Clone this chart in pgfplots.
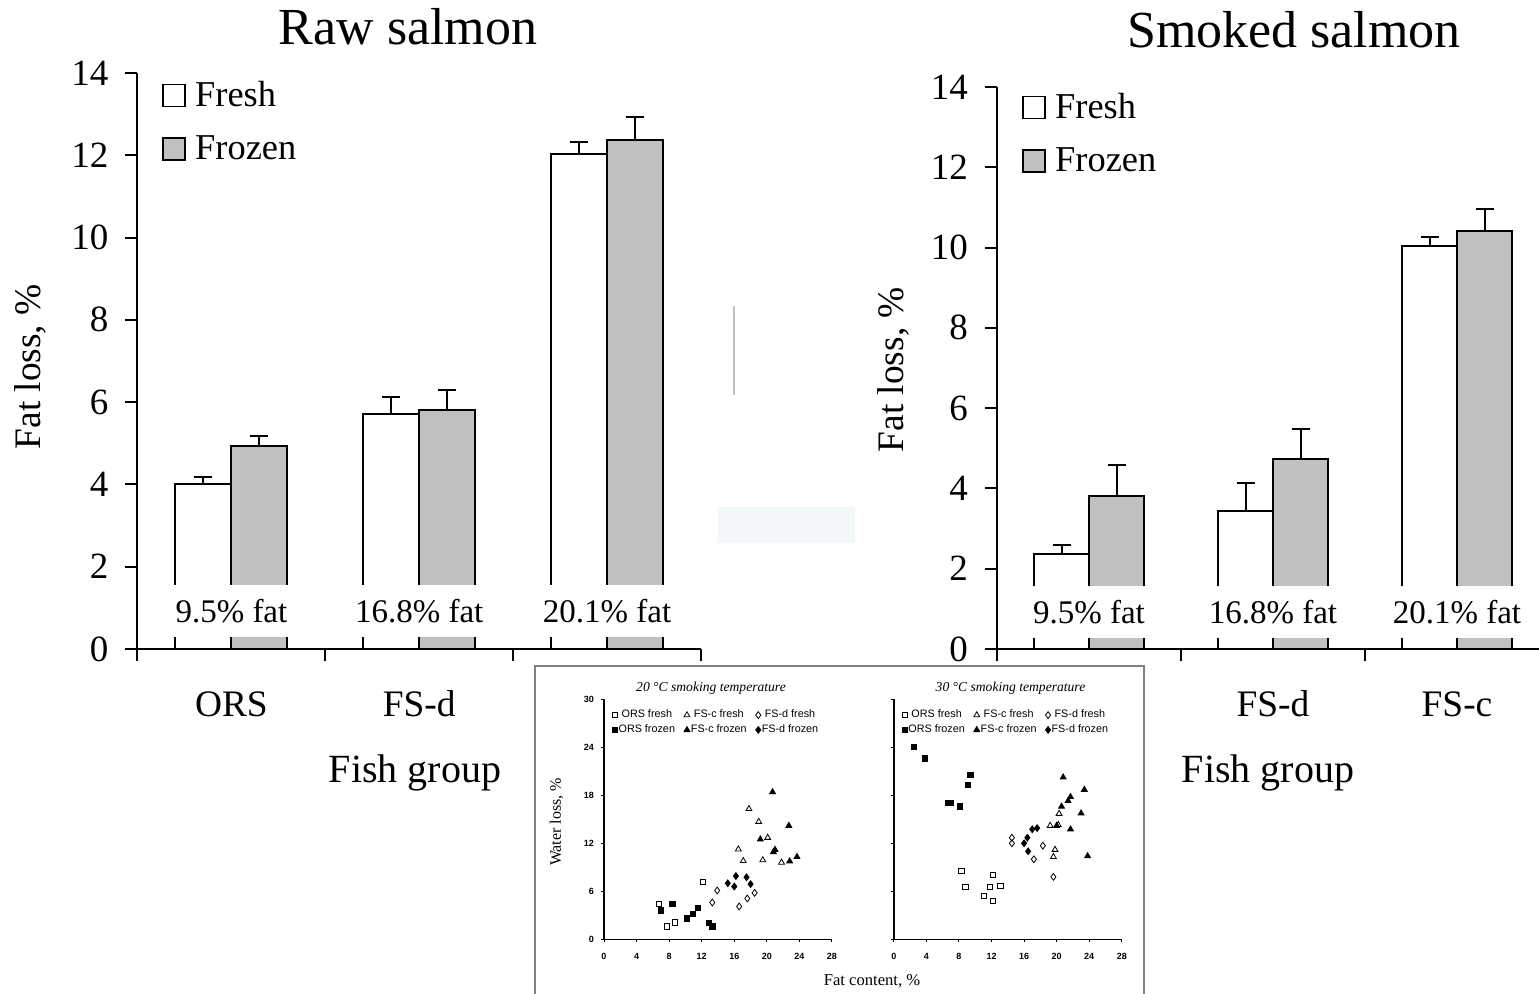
\documentclass[border=0pt]{standalone}
\usepackage{fontspec}
\setmainfont{Liberation Serif}
\setsansfont{Liberation Sans}
\usepackage{pgfplots}
\pgfplotsset{compat=1.18}
\definecolor{bargray}{HTML}{C0C0C0}
\definecolor{artgray}{HTML}{C0C0C0}
\definecolor{artblue}{HTML}{F2F7FA}
\newcommand\fs[1]{\fontsize{#1}{#1}\selectfont}
\tikzset{fatlab/.style={fill=white, inner sep=0pt, font=\fs{16.5}, minimum height=26pt}}
\pgfplotsset{
  mainbar/.style={
    scale only axis, axis lines*=left, clip=false,
    ymin=0, ymax=14, ytick={0,2,...,14},
    xmin=-0.5, xmax=2.5, xtick={-0.5,0.5,1.5,2.5}, xticklabels={},
    extra x ticks={0,1,2},
    extra x tick style={major tick length=0pt, xticklabel style={anchor=base, yshift=-34pt, font=\fs{18.7}}},
    tick align=outside, major tick length=6pt,
    every tick/.style={black, line width=1pt},
    axis line style={line width=1pt},
    /pgf/number format/assume math mode=true,
    yticklabel style={font=\fs{18.5}, xshift=-5pt},
    ylabel={Fat loss, \%},
    xlabel={Fish group},
    ybar=0pt,
    legend cell align=left,
    legend style={draw=none, fill=none, at={(0,1)}, anchor=north west, font=\fs{18.2}, row sep=9pt, inner sep=0pt},
  },
  sqlegend/.style={legend image code/.code={\draw[##1, line width=0.8pt] (0pt,-5.5pt) rectangle (11pt,5.5pt); \path (13.5pt,0pt);}},
  barfresh/.style={fill=white, draw=black, line width=1pt, sqlegend,
    error bars/.cd, y dir=plus, y explicit, error bar style={line width=1pt, black},
    error mark options={rotate=90, mark size=4.5pt, line width=1pt, black}},
  barfrozen/.style={fill=bargray, draw=black, line width=1pt, sqlegend,
    error bars/.cd, y dir=plus, y explicit, error bar style={line width=1pt, black},
    error mark options={rotate=90, mark size=4.5pt, line width=1pt, black}},
  inset/.style={
    scale only axis, width=114pt, height=120pt, clip=false,
    xmin=0, xmax=28, ymin=0, ymax=30,
    xtick={0,4,...,28}, ytick={0,6,...,30},
    axis lines*=left, tick align=outside, major tick length=1.5pt,
    every tick/.style={black, line width=0.5pt},
    axis line style={line width=0.7pt},
    tick label style={font=\sffamily\bfseries\fs{4.5}},
    xticklabel style={yshift=-2pt},
    /pgf/number format/assume math mode=true,
    legend columns=3,
    legend style={draw=none, fill=none, at={(0,1)}, anchor=north west, xshift=4pt, yshift=-4.5pt,
      font=\sffamily\fs{5.4}, inner sep=0pt, nodes={inner sep=0.5pt}, row sep=1pt,
      /tikz/every odd column/.append style={column sep=0pt},
      /tikz/every even column/.append style={column sep=4pt}},
  },
  mk/.style={only marks, black, mark options={line width=0.4pt},
    legend image code/.code={\draw[##1] plot coordinates {(1.5pt,0pt)};}},
  s1/.style={mk, mark=square, mark size=1.3pt, mark options={fill=white}},
  s2/.style={mk, mark=triangle, mark size=1.7pt, mark options={fill=white}},
  s3/.style={mk, mark=diamond, mark size=1.7pt, mark options={fill=white}},
  s4/.style={mk, mark=square*, mark size=1.3pt},
  s5/.style={mk, mark=triangle*, mark size=1.7pt},
  s6/.style={mk, mark=diamond*, mark size=1.7pt},
}
\begin{document}
\begin{tikzpicture}
\path[use as bounding box] (0pt,0pt) rectangle (769.5pt,497pt);

% ---------------- Raw salmon ----------------
% (the FS-c label lies under the inset in the reference)
\begin{axis}[mainbar, at={(68.75pt,172.5pt)}, anchor=south west,
  width=281.75pt, height=288pt, bar width=28pt,
  extra x tick labels={ORS,FS-d,{}},
  ylabel style={at={(axis description cs:-0.1908,0.49)}, anchor=center, font=\fs{18.7}},
  xlabel style={at={(axis description cs:0.4925,-0.215)}, anchor=center, font=\fs{20}},
  legend style={xshift=12.25pt, yshift=-2pt}]
\addplot[barfresh] table[x=x, y=y, y error=e] {
x y e
0 4.00 0.19
1 5.70 0.42
2 12.03 0.30
};
\addlegendentry{Fresh}
\addplot[barfrozen] table[x=x, y=y, y error=e] {
x y e
0 4.94 0.23
1 5.80 0.50
2 12.37 0.56
};
\addlegendentry{Frozen}
\node[fatlab, minimum width=57pt] at (axis cs:0,0.92) {9.5\% fat};
\node[fatlab, minimum width=57pt] at (axis cs:1,0.92) {16.8\% fat};
\node[fatlab, minimum width=57pt] at (axis cs:2,0.92) {20.1\% fat};
\end{axis}

% ---------------- Smoked salmon ----------------
% (the ORS label lies under the inset in the reference)
\begin{axis}[mainbar, at={(498.5pt,172.5pt)}, anchor=south west,
  width=276pt, height=281pt, bar width=27.5pt,
  extra x tick labels={{},FS-d,FS-c},
  ylabel style={at={(axis description cs:-0.1884,0.497)}, anchor=center, font=\fs{18.7}},
  xlabel style={at={(axis description cs:0.491,-0.22)}, anchor=center, font=\fs{20}},
  legend style={xshift=12.5pt, yshift=-1pt}]
\addplot[barfresh] table[x=x, y=y, y error=e] {
x y e
0 2.36 0.22
1 3.44 0.70
2 10.03 0.24
};
\addlegendentry{Fresh}
\addplot[barfrozen] table[x=x, y=y, y error=e] {
x y e
0 3.80 0.78
1 4.74 0.74
2 10.41 0.56
};
\addlegendentry{Frozen}
\node[fatlab, minimum width=56pt] at (axis cs:0,0.92) {9.5\% fat};
\node[fatlab, minimum width=56pt] at (axis cs:1,0.92) {16.8\% fat};
\node[fatlab, minimum width=56pt] at (axis cs:2,0.92) {20.1\% fat};
\end{axis}

% titles
\node[anchor=base, font=\fs{26}] at (204pt,474.5pt) {Raw salmon};
\node[anchor=base, font=\fs{26}] at (647pt,473pt) {Smoked salmon};

% stray marks in the reference
\draw[artgray, line width=1pt] (366.85pt,344pt) -- (366.85pt,299.5pt);
\fill[artblue] (359pt,243.5pt) rectangle (427.5pt,225.5pt);

% ---------------- inset ----------------
\draw[fill=white, draw=gray, line width=0.6pt] (267.5pt,164pt) rectangle (572pt,-5pt);

\begin{axis}[inset, at={(302pt,27.35pt)}, anchor=south west]
\addplot[s1] coordinates {(6.7,4.4) (7.75,1.6) (8.7,2.1) (12.1,7.2)};
\addlegendentry{ORS fresh}
\addplot[s2] coordinates {(16.5,11.25) (17.1,9.8) (17.8,16.3) (19.0,14.7) (19.5,9.9) (20.1,12.7) (21.8,9.6)};
\addlegendentry{FS-c fresh}
\addplot[s3] coordinates {(13.3,4.6) (13.9,6.1) (16.6,4.1) (17.6,5.1) (18.5,5.8)};
\addlegendentry{FS-d fresh}
\addplot[s4] coordinates {(7.0,3.6) (8.4,4.4) (10.2,2.6) (10.9,3.2) (11.5,3.9) (12.9,2.0) (13.3,1.6)};
\addlegendentry{ORS frozen}
\addplot[s5] coordinates {(19.2,12.5) (20.7,18.4) (21.0,11.2) (20.8,10.9) (22.7,14.2) (22.8,9.75) (23.7,10.3)};
\addlegendentry{FS-c frozen}
\addplot[s6] coordinates {(15.2,7.0) (16.0,6.6) (16.2,7.9) (17.5,7.75) (18.0,6.9)};
\addlegendentry{FS-d frozen}
\end{axis}

\begin{axis}[inset, at={(446.9pt,27.35pt)}, anchor=south west, yticklabels={}]
\addplot[s1] coordinates {(8.3,8.5) (8.8,6.5) (11.1,5.4) (11.8,6.5) (12.15,8.0) (12.15,4.8) (13.1,6.7)};
\addlegendentry{ORS fresh}
\addplot[s2] coordinates {(19.6,10.3) (19.8,11.2) (19.2,14.2) (20.3,15.7) (20.2,14.3)};
\addlegendentry{FS-c fresh}
\addplot[s3] coordinates {(14.5,12.7) (14.5,12.0) (17.2,10.0) (18.3,11.7) (19.6,7.8)};
\addlegendentry{FS-d fresh}
\addplot[s4] coordinates {(2.5,24.0) (3.85,22.6) (6.6,17.0) (7.0,17.0) (8.1,16.6) (9.1,19.3) (9.4,20.5)};
\addlegendentry{ORS frozen}
\addplot[s5] coordinates {(20.0,14.2) (20.8,20.25) (20.6,16.6) (21.4,17.3) (21.7,17.8) (21.7,13.75) (23.0,15.75) (23.4,18.7) (23.8,10.4)};
\addlegendentry{FS-c frozen}
\addplot[s6] coordinates {(16.0,12.0) (16.4,12.7) (16.5,11.0) (17.0,13.75) (17.6,13.9)};
\addlegendentry{FS-d frozen}
\end{axis}

\node[font=\itshape\fs{6.8}] at (355.5pt,153pt) {20 °C smoking temperature};
\node[font=\itshape\fs{6.8}] at (505.25pt,153pt) {30 °C smoking temperature};
\node[rotate=90, font=\fs{8}] at (278.25pt,86pt) {Water loss, \%};
\node[font=\fs{8.3}] at (436pt,6.15pt) {Fat content, \%};
\end{tikzpicture}
\end{document}
